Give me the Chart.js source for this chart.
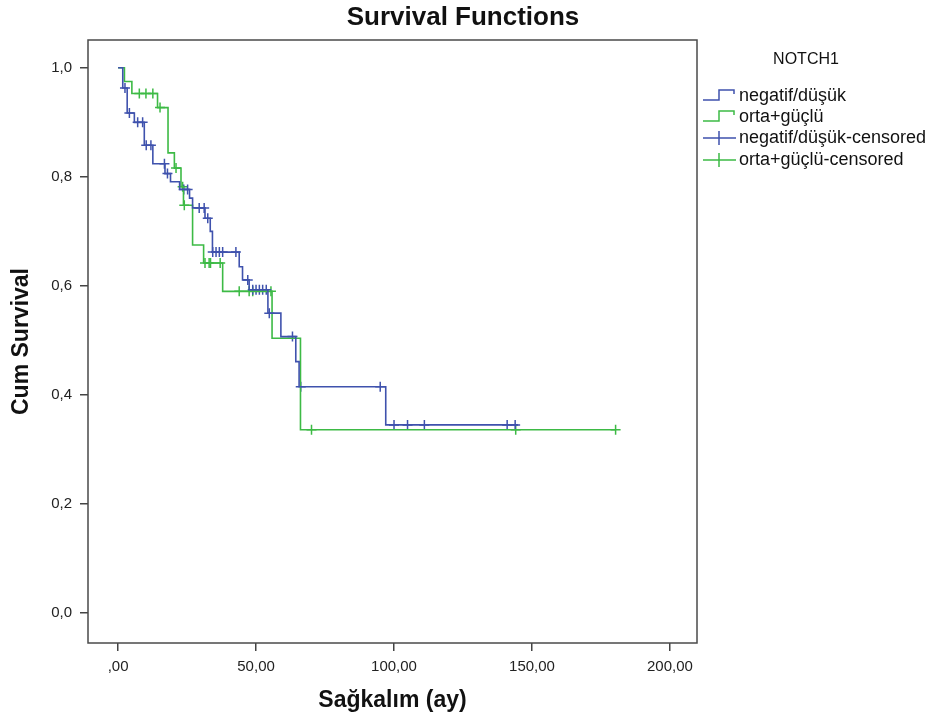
<!DOCTYPE html>
<html>
<head>
<meta charset="utf-8">
<title>Survival Functions</title>
<script src="https://cdn.jsdelivr.net/npm/chart.js@4.4.1/dist/chart.umd.min.js"></script>
<style>
  html, body { margin: 0; padding: 0; background: #fff; }
  #wrap { width: 938px; height: 726px; }
</style>
</head>
<body>
<div id="wrap"><canvas id="kmChart" width="938" height="726"></canvas></div>
<script>
// Kaplan-Meier steps (time in months, cumulative survival)
const negTimes = [0, 1.7, 3.3, 5.9, 9.5, 12.6, 17.0, 19.0, 22.3, 25.9, 27.0, 31.5, 33.4, 34.2, 43.9, 45.1, 47.5, 54.3, 59.0, 64.4, 65.6, 97.0];
const negSurv = [1.0, 0.963, 0.917, 0.900, 0.858, 0.824, 0.806, 0.791, 0.777, 0.761, 0.743, 0.724, 0.700, 0.662, 0.635, 0.611, 0.593, 0.550, 0.507, 0.461, 0.415, 0.345];
const negCensored = [2.5, 4.1, 7.1, 8.9, 10.2, 11.9, 16.8, 17.9, 23.8, 25.2, 29.4, 31.2, 32.5, 34.3, 35.5, 36.7, 37.9, 42.7, 47.0, 48.8, 50.0, 51.2, 52.4, 53.7, 54.8, 63.2, 66.2, 95.0, 100.0, 104.9, 111.0, 141.0, 143.9];
const negLastTime = 145;

const ortaTimes = [0, 2.3, 5.0, 14.3, 18.1, 20.4, 22.8, 23.7, 27.0, 31.0, 37.9, 55.8, 66.1];
const ortaSurv = [1.0, 0.975, 0.953, 0.927, 0.844, 0.816, 0.782, 0.748, 0.675, 0.642, 0.590, 0.504, 0.336];
const ortaCensored = [7.7, 10.1, 12.6, 15.2, 21.0, 23.4, 24.0, 31.5, 33.0, 33.5, 37.0, 43.9, 47.5, 48.8, 55.4, 70.1, 144.1, 180.3];
const ortaLastTime = 180.3;

const groupLabels = ['negatif/düşük', 'orta+güçlü', 'negatif/düşük-censored', 'orta+güçlü-censored'];
const xTickValues = [0, 50, 100, 150, 200];
const yTickValues = [0, 0.2, 0.4, 0.6, 0.8, 1.0];

const BLUE = '#3f52ad';
const GREEN = '#3dba45';
const FONT = "'Liberation Sans', Arial, sans-serif";

// helpers
function stepPoints(times, surv, lastTime) {
    let pts = times.map((t, i) => ({ x: t, y: surv[i] }));
    pts.push({ x: lastTime, y: surv[surv.length - 1] });
    return pts;
}

function survivalAt(times, surv, t) {
    let s = surv[0];
    for (let i = 0; i < times.length; i++) {
        if (times[i] <= t) s = surv[i];
    }
    return s;
}

function censorPoints(censored, times, surv) {
    return censored.map(t => ({ x: t, y: survivalAt(times, surv, t) }));
}

function commaNum(v, digits) {
    let s = v.toFixed(digits).replace('.', ',');
    if (s.startsWith('0,') && digits === 2) s = s.substring(1);
    return s;
}

// title, frame and legend drawn on top
const decorPlugin = {
    id: 'decorPlugin',
    afterDraw(chart) {
        const ctx = chart.ctx;
        const area = chart.chartArea;
        ctx.save();

        // frame around plot
        ctx.strokeStyle = '#4a4a4a';
        ctx.lineWidth = 1.5;
        ctx.strokeRect(area.left, area.top, area.right - area.left, area.bottom - area.top);

        // chart title
        ctx.fillStyle = '#111';
        ctx.textAlign = 'center';
        ctx.textBaseline = 'middle';
        ctx.font = 'bold 26px ' + FONT;
        ctx.fillText('Survival Functions', 463, 18);

        // legend
        ctx.font = '16px ' + FONT;
        ctx.fillText('NOTCH1', 806, 60);

        const lx = area.right + 6;
        const rows = [96, 117, 138, 160];
        const colors = [BLUE, GREEN, BLUE, GREEN];
        ctx.font = '18px ' + FONT;
        ctx.textAlign = 'left';
        ctx.lineWidth = 1.5;
        rows.forEach((y, i) => {
            ctx.strokeStyle = colors[i];
            ctx.beginPath();
            if (i < 2) {
                ctx.moveTo(lx, y + 4);
                ctx.lineTo(lx + 16, y + 4);
                ctx.lineTo(lx + 16, y - 6);
                ctx.lineTo(lx + 31, y - 6);
                ctx.lineTo(lx + 31, y - 2);
            } else {
                ctx.moveTo(lx, y);
                ctx.lineTo(lx + 33, y);
                ctx.moveTo(lx + 16, y - 7);
                ctx.lineTo(lx + 16, y + 7);
            }
            ctx.stroke();
            ctx.fillStyle = '#111';
            ctx.fillText(groupLabels[i], lx + 36, y);
        });

        ctx.restore();
    }
};

const ctx = document.getElementById('kmChart').getContext('2d');
const config = {
    type: 'line',
    data: {
        datasets: [
            {
                label: groupLabels[0],
                data: stepPoints(negTimes, negSurv, negLastTime),
                borderColor: BLUE,
                borderWidth: 1.6,
                stepped: true,
                pointRadius: 0,
                fill: false
            },
            {
                label: groupLabels[1],
                data: stepPoints(ortaTimes, ortaSurv, ortaLastTime),
                borderColor: GREEN,
                borderWidth: 1.6,
                stepped: true,
                pointRadius: 0,
                fill: false
            },
            {
                label: groupLabels[2],
                data: censorPoints(negCensored, negTimes, negSurv),
                showLine: false,
                pointStyle: 'cross',
                pointRadius: 5,
                borderColor: BLUE,
                borderWidth: 1.5
            },
            {
                label: groupLabels[3],
                data: censorPoints(ortaCensored, ortaTimes, ortaSurv),
                showLine: false,
                pointStyle: 'cross',
                pointRadius: 5,
                borderColor: GREEN,
                borderWidth: 1.5
            }
        ]
    },
    options: {
        responsive: false,
        animation: false,
        layout: {
            padding: { top: 40, right: 241, left: 0, bottom: 0 }
        },
        scales: {
            x: {
                type: 'linear',
                min: -10.9,
                max: 209.8,
                afterFit: scale => { scale.height = 83; },
                afterBuildTicks: scale => { scale.ticks = xTickValues.map(v => ({ value: v })); },
                ticks: {
                    color: '#222',
                    font: { family: FONT, size: 15 },
                    padding: 7,
                    callback: v => commaNum(v, 2)
                },
                grid: {
                    drawOnChartArea: false,
                    drawTicks: true,
                    tickLength: 8,
                    color: '#444',
                    lineWidth: 1.5
                },
                border: { display: false },
                title: {
                    display: true,
                    text: 'Sağkalım (ay)',
                    color: '#111',
                    font: { family: FONT, size: 23, weight: 'bold' },
                    padding: { top: 0, bottom: 12 }
                }
            },
            y: {
                type: 'linear',
                min: -0.055,
                max: 1.051,
                afterFit: scale => { scale.width = 88; },
                afterBuildTicks: scale => { scale.ticks = yTickValues.map(v => ({ value: v })); },
                ticks: {
                    color: '#222',
                    font: { family: FONT, size: 15 },
                    padding: 8,
                    callback: v => commaNum(v, 1)
                },
                grid: {
                    drawOnChartArea: false,
                    drawTicks: true,
                    tickLength: 8,
                    color: '#444',
                    lineWidth: 1.5
                },
                border: { display: false },
                title: {
                    display: true,
                    text: 'Cum Survival',
                    color: '#111',
                    font: { family: FONT, size: 23, weight: 'bold' },
                    padding: { top: 8, bottom: 0 }
                }
            }
        },
        plugins: {
            legend: { display: false },
            tooltip: { enabled: false },
            title: { display: false }
        }
    },
    plugins: [decorPlugin]
};

new Chart(ctx, config);
</script>
</body>
</html>
